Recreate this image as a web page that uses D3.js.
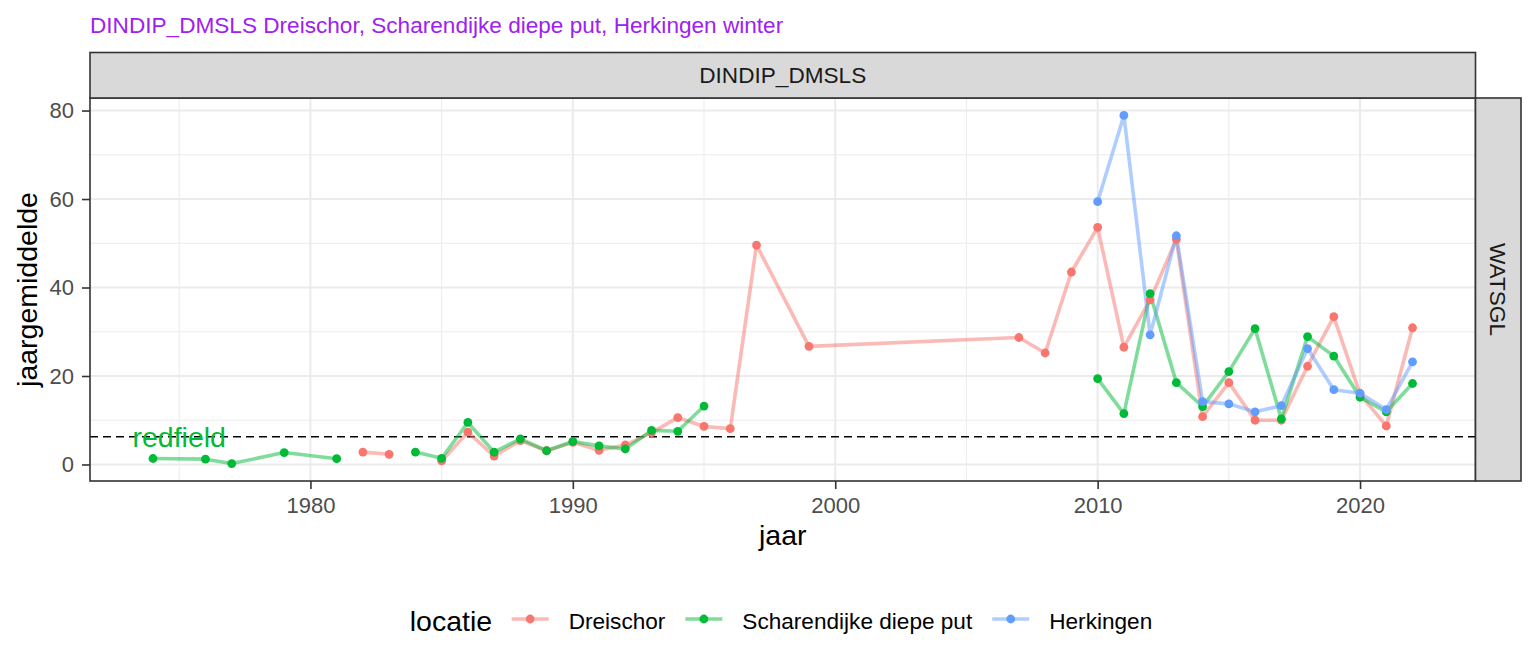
<!DOCTYPE html>
<html>
<head>
<meta charset="utf-8">
<script src="https://cdn.jsdelivr.net/npm/d3@7"></script>
<style>
  body { margin: 0; background: #fff; }
  svg { font-family: "Liberation Sans", Arial, sans-serif; display: block; }
</style>
</head>
<body>
<svg id="chart" width="1536" height="672"></svg>
<script>
//Chart data
const locaties = ["Dreischor", "Scharendijke diepe put", "Herkingen"];
const kleuren = ["#F8766D", "#00BA38", "#619CFF"];

//null = missing year (breaks the line)
const jarenDreischor = [1982, 1983, 1984, 1985, 1986, 1987, 1988, 1989, 1990, 1991, 1992, 1993, 1994, 1995, 1996, 1997,
  1999, 2007, 2008, 2009, 2010, 2011, 2012, 2013, 2014, 2015, 2016, 2017, 2018, 2019, 2020, 2021, 2022];
const waardenDreischor = [2.8, 2.3, null, 0.8, 7.3, 1.9, 5.4, 3.1, 5.0, 3.2, 4.4, 7.2, 10.6, 8.6, 8.1, 49.6,
  26.7, 28.7, 25.2, 43.5, 53.6, 26.5, 37.2, 50.9, 10.8, 18.5, 10.0, 10.0, 22.2, 33.4, 15.9, 8.7, 30.9];

const jarenScharendijke = [1974, 1976, 1977, 1979, 1981, 1982, 1984, 1985, 1986, 1987, 1988, 1989, 1990, 1991, 1992, 1993, 1994, 1995, 1996,
  2010, 2011, 2012, 2013, 2014, 2015, 2016, 2017, 2018, 2019, 2020, 2021, 2022];
const waardenScharendijke = [1.35, 1.2, 0.2, 2.7, 1.3, null, 2.8, 1.4, 9.5, 2.8, 5.8, 3.1, 5.2, 4.2, 3.5, 7.7, 7.5, 13.2, null,
  19.4, 11.5, 38.6, 18.5, 13.1, 21.0, 30.7, 10.3, 28.9, 24.5, 15.2, 11.9, 18.3];

const jarenHerkingen = [2010, 2011, 2012, 2013, 2014, 2015, 2016, 2017, 2018, 2019, 2020, 2021, 2022];
const waardenHerkingen = [59.4, 78.9, 29.3, 51.7, 14.2, 13.7, 11.9, 13.3, 26.2, 16.9, 16.1, 12.4, 23.2];

const redfield = 6.25;
const xTicks = [1980, 1990, 2000, 2010, 2020];
const xMinorTicks = [1975, 1985, 1995, 2005, 2015];
const yTicks = [0, 20, 40, 60, 80];
const yMinorTicks = [10, 30, 50, 70];

const titel = "DINDIP_DMSLS Dreischor, Scharendijke diepe put, Herkingen winter";
const stripBoven = "DINDIP_DMSLS";
const stripRechts = "WATSGL";

document.addEventListener("DOMContentLoaded", () => {
  const svg = d3.select("#chart");

  //Combine the arrays into one series per location
  const series = [
    [jarenDreischor, waardenDreischor],
    [jarenScharendijke, waardenScharendijke],
    [jarenHerkingen, waardenHerkingen],
  ].map(([jaren, waarden], i) => ({
    naam: locaties[i],
    kleur: kleuren[i],
    punten: jaren.map((j, k) => ({ jaar: j, waarde: waarden[k] })),
  }));
  const allePunten = series.flatMap((s) => s.punten.filter((p) => p.waarde != null));

  //Panel box
  const panel = { left: 90, right: 1475.5, top: 98, bottom: 481 };
  const lijnDikte = 3.6;
  const puntStraal = 4.4;

  //Scales with ggplot style 5% expansion
  const expand = (ext) => {
    const d = ext[1] - ext[0];
    return [ext[0] - d * 0.05, ext[1] + d * 0.05];
  };
  const xScale = d3
    .scaleLinear()
    .domain(expand(d3.extent(allePunten, (d) => d.jaar)))
    .range([panel.left, panel.right]);
  const yScale = d3
    .scaleLinear()
    .domain(expand(d3.extent(allePunten, (d) => d.waarde)))
    .range([panel.bottom, panel.top]);

  //Title
  svg
    .append("text")
    .attr("x", 90)
    .attr("y", 33)
    .attr("fill", "#A020F0")
    .style("font-size", "22.6px")
    .text(titel);

  //Grid lines
  const grid = svg.append("g");
  const vLijnen = (data, w) =>
    grid
      .append("g")
      .selectAll("line")
      .data(data)
      .enter()
      .append("line")
      .attr("x1", (d) => xScale(d))
      .attr("x2", (d) => xScale(d))
      .attr("y1", panel.top)
      .attr("y2", panel.bottom)
      .attr("stroke", "#EBEBEB")
      .attr("stroke-width", w);
  const hLijnen = (data, w) =>
    grid
      .append("g")
      .selectAll("line")
      .data(data)
      .enter()
      .append("line")
      .attr("x1", panel.left)
      .attr("x2", panel.right)
      .attr("y1", (d) => yScale(d))
      .attr("y2", (d) => yScale(d))
      .attr("stroke", "#EBEBEB")
      .attr("stroke-width", w);
  vLijnen(xMinorTicks, 1);
  hLijnen(yMinorTicks, 1);
  vLijnen(xTicks, 2);
  hLijnen(yTicks, 2);

  //Redfield line
  svg
    .append("line")
    .attr("x1", panel.left)
    .attr("x2", panel.right)
    .attr("y1", yScale(redfield))
    .attr("y2", yScale(redfield))
    .attr("stroke", "#000")
    .attr("stroke-width", 1.6)
    .attr("stroke-dasharray", "8,5");

  //Lines
  const line = d3
    .line()
    .defined((d) => d.waarde != null)
    .x((d) => xScale(d.jaar))
    .y((d) => yScale(d.waarde));
  svg
    .append("g")
    .selectAll("path")
    .data(series)
    .enter()
    .append("path")
    .attr("d", (d) => line(d.punten))
    .attr("fill", "none")
    .attr("stroke", (d) => d.kleur)
    .attr("stroke-opacity", 0.5)
    .attr("stroke-width", lijnDikte)
    .attr("stroke-linejoin", "round");

  //Points
  series.forEach((s) => {
    svg
      .append("g")
      .selectAll("circle")
      .data(s.punten.filter((p) => p.waarde != null))
      .enter()
      .append("circle")
      .attr("cx", (d) => xScale(d.jaar))
      .attr("cy", (d) => yScale(d.waarde))
      .attr("r", puntStraal)
      .attr("fill", s.kleur);
  });

  //Redfield label
  svg
    .append("text")
    .attr("x", xScale(1975))
    .attr("y", yScale(redfield))
    .attr("dy", "0.36em")
    .attr("text-anchor", "middle")
    .attr("fill", "#00BA38")
    .style("font-size", "28.5px")
    .text("redfield");

  //Panel border
  svg
    .append("rect")
    .attr("x", panel.left)
    .attr("y", panel.top)
    .attr("width", panel.right - panel.left)
    .attr("height", panel.bottom - panel.top)
    .attr("fill", "none")
    .attr("stroke", "#333333")
    .attr("stroke-width", 1.6);

  //Strips
  svg
    .append("rect")
    .attr("x", panel.left)
    .attr("y", 52.5)
    .attr("width", panel.right - panel.left)
    .attr("height", panel.top - 52.5)
    .attr("fill", "#D9D9D9")
    .attr("stroke", "#333333")
    .attr("stroke-width", 1.6);
  svg
    .append("text")
    .attr("x", (panel.left + panel.right) / 2)
    .attr("y", 83)
    .attr("text-anchor", "middle")
    .attr("fill", "#1A1A1A")
    .style("font-size", "22.6px")
    .text(stripBoven);
  svg
    .append("rect")
    .attr("x", panel.right)
    .attr("y", panel.top)
    .attr("width", 45.5)
    .attr("height", panel.bottom - panel.top)
    .attr("fill", "#D9D9D9")
    .attr("stroke", "#333333")
    .attr("stroke-width", 1.6);
  svg
    .append("text")
    .attr("transform", `translate(${panel.right + 22.75}, ${(panel.top + panel.bottom) / 2}) rotate(90)`)
    .attr("dy", "0.36em")
    .attr("text-anchor", "middle")
    .attr("fill", "#1A1A1A")
    .style("font-size", "22.6px")
    .text(stripRechts);

  //Axes
  const xAxis = d3.axisBottom(xScale).tickValues(xTicks).tickSize(8).tickPadding(8).tickFormat(d3.format("d"));
  const gx = svg
    .append("g")
    .attr("transform", `translate(0, ${panel.bottom})`)
    .call(xAxis);
  const yAxis = d3.axisLeft(yScale).tickValues(yTicks).tickSize(8).tickPadding(8);
  const gy = svg
    .append("g")
    .attr("transform", `translate(${panel.left}, 0)`)
    .call(yAxis);
  [gx, gy].forEach((g) => {
    g.select(".domain").remove();
    g.selectAll(".tick line").attr("stroke", "#333333").attr("stroke-width", 1.6);
    g.selectAll(".tick text")
      .attr("fill", "#4D4D4D")
      .style("font-size", "22px")
      .style("font-family", "'Liberation Sans', Arial, sans-serif");
  });

  //Axis titles
  svg
    .append("text")
    .attr("x", (panel.left + panel.right) / 2)
    .attr("y", 545)
    .attr("text-anchor", "middle")
    .style("font-size", "28.5px")
    .text("jaar");
  svg
    .append("text")
    .attr("transform", `translate(37, ${(panel.top + panel.bottom) / 2}) rotate(-90)`)
    .attr("text-anchor", "middle")
    .style("font-size", "28.5px")
    .text("jaargemiddelde");

  //Legend
  const legend = svg.append("g");
  const legendTitle = legend
    .append("text")
    .attr("x", 0)
    .attr("y", 631)
    .style("font-size", "28.5px")
    .text("locatie");
  let xPos = legendTitle.node().getComputedTextLength() + 19.5;
  series.forEach((s) => {
    legend
      .append("line")
      .attr("x1", xPos)
      .attr("x2", xPos + 37)
      .attr("y1", 619)
      .attr("y2", 619)
      .attr("stroke", s.kleur)
      .attr("stroke-opacity", 0.5)
      .attr("stroke-width", lijnDikte);
    legend
      .append("circle")
      .attr("cx", xPos + 18.5)
      .attr("cy", 619)
      .attr("r", puntStraal)
      .attr("fill", s.kleur);
    const t = legend
      .append("text")
      .attr("x", xPos + 57)
      .attr("y", 629)
      .style("font-size", "22.6px")
      .text(s.naam);
    xPos += 57 + t.node().getComputedTextLength() + 20;
  });
  const legendWidth = xPos - 20;
  legend.attr("transform", `translate(${781 - legendWidth / 2}, 0)`);
});
</script>
</body>
</html>
